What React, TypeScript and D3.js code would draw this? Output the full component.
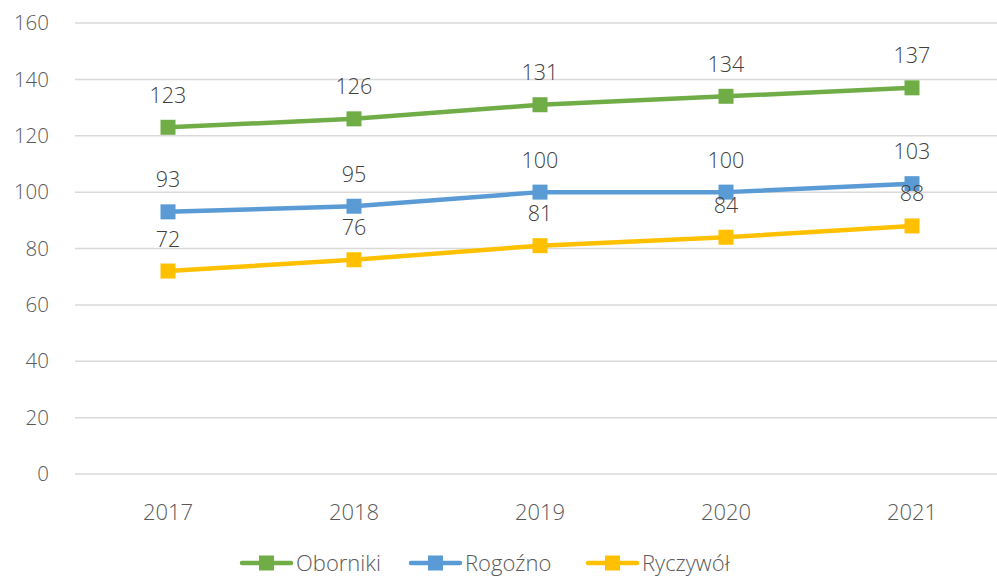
import React, { useEffect, useRef } from 'react';
import * as d3 from 'd3';

// Line chart: three series over five years, labels above points, legend at bottom.

const YEARS = ['2017', '2018', '2019', '2020', '2021'];
const OBORNIKI = [123, 126, 131, 134, 137];
const ROGOZNO = [93, 95, 100, 100, 103];
const RYCZYWOL = [72, 76, 81, 84, 88];
const Y_TICKS = [0, 20, 40, 60, 80, 100, 120, 140, 160];

const SERIES = [
  { name: 'Oborniki', values: OBORNIKI, color: '#70ad47' },
  { name: 'Rogoźno', values: ROGOZNO, color: '#5b9bd5' },
  { name: 'Ryczywół', values: RYCZYWOL, color: '#ffc000' },
];

const W = 997;
const H = 577;
const FONT = '"Open Sans", sans-serif';
const TEXT = '#595959';

const App = () => {
  const svgRef = useRef<SVGSVGElement | null>(null);

  useEffect(() => {
    const svg = d3.select(svgRef.current);
    svg.selectAll('*').remove();

    const x = d3.scaleBand<string>().domain(YEARS).range([75, 1005]);
    const y = d3.scaleLinear().domain([0, 160]).range([474, 23]);
    const cx = (yr: string) => (x(yr) as number) + x.bandwidth() / 2;

    // gridlines
    svg.append('g')
      .selectAll('line')
      .data(Y_TICKS)
      .enter()
      .append('line')
      .attr('x1', 75)
      .attr('x2', 1005)
      .attr('y1', d => y(d))
      .attr('y2', d => y(d))
      .attr('stroke', '#d9d9d9')
      .attr('stroke-width', 1.5);

    // y labels
    svg.append('g')
      .selectAll('text')
      .data(Y_TICKS)
      .enter()
      .append('text')
      .attr('x', 49)
      .attr('y', d => y(d))
      .attr('dy', '0.35em')
      .attr('text-anchor', 'end')
      .attr('fill', TEXT)
      .style('font', `300 20.5px ${FONT}`)
      .text(d => d);

    // x labels
    svg.append('g')
      .selectAll('text')
      .data(YEARS)
      .enter()
      .append('text')
      .attr('x', d => cx(d))
      .attr('y', 512)
      .attr('dy', '0.35em')
      .attr('text-anchor', 'middle')
      .attr('fill', TEXT)
      .style('font', `300 22px ${FONT}`)
      .text(d => d);

    const line = d3.line<number>()
      .x((_, i) => cx(YEARS[i]))
      .y(d => y(d));

    SERIES.forEach(s => {
      const g = svg.append('g');
      g.append('path')
        .attr('d', line(s.values))
        .attr('fill', 'none')
        .attr('stroke', s.color)
        .attr('stroke-width', 4.5)
        .attr('stroke-linejoin', 'round')
        .attr('stroke-linecap', 'round');
      g.selectAll('rect')
        .data(s.values)
        .enter()
        .append('rect')
        .attr('x', (_, i) => cx(YEARS[i]) - 7.5)
        .attr('y', d => y(d) - 7.5)
        .attr('width', 15)
        .attr('height', 15)
        .attr('fill', s.color);
    });

    SERIES.forEach(s => {
      svg.append('g')
        .selectAll('text')
        .data(s.values)
        .enter()
        .append('text')
        .attr('x', (_, i) => cx(YEARS[i]))
        .attr('y', d => y(d) - 32)
        .attr('dy', '0.35em')
        .attr('text-anchor', 'middle')
        .attr('fill', '#404040')
        .style('font', `300 21.5px ${FONT}`)
        .text(d => d);
    });

    // legend
    const legendX = [240, 409, 586];
    SERIES.forEach((s, i) => {
      const g = svg.append('g').attr('transform', `translate(${legendX[i]},563)`);
      g.append('line')
        .attr('x1', 2).attr('x2', 51)
        .attr('stroke', s.color)
        .attr('stroke-width', 4.5)
        .attr('stroke-linecap', 'round');
      g.append('rect')
        .attr('x', 19).attr('y', -7.5)
        .attr('width', 15).attr('height', 15)
        .attr('fill', s.color);
      g.append('text')
        .attr('x', 56)
        .attr('y', 0)
        .attr('dy', '0.35em')
        .attr('fill', TEXT)
        .style('font', `300 22px ${FONT}`)
        .text(s.name);
    });
  }, []);

  return (
    <svg
      ref={svgRef}
      width={W}
      height={H}
      style={{ position: 'absolute', left: 0, top: 0, background: '#fff' }}
    />
  );
};

export default App;
